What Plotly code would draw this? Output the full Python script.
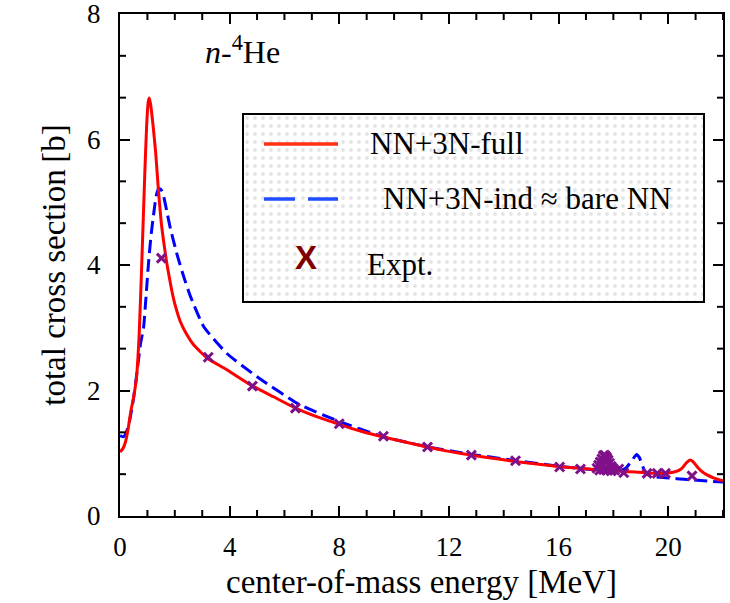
import plotly.graph_objects as go

# ---------------- data ----------------
full_x = [0.00, 0.10, 0.20, 0.30, 0.40, 0.50, 0.60, 0.70, 0.80, 0.90, 0.97, 1.03, 1.07,
          1.12, 1.20, 1.30, 1.40, 1.50, 1.60, 1.70, 1.80, 1.90, 2.00, 2.20, 2.40, 2.70,
          3.20, 3.90, 4.80, 5.60, 6.40, 7.20, 8.00, 8.80, 9.60, 10.40, 11.20, 12.00,
          12.80, 13.60, 14.40, 15.20, 16.00, 16.80, 17.60, 18.40, 19.20, 19.50, 20.00,
          20.30, 20.50, 20.65, 20.78, 20.90, 21.05, 21.20, 21.40, 21.70, 22.00]
full_y = [1.02, 1.07, 1.18, 1.40, 1.68, 1.90, 2.20, 2.90, 4.10, 5.40, 6.20, 6.60, 6.66,
          6.55, 6.25, 5.80, 5.20, 4.70, 4.35, 4.05, 3.80, 3.57, 3.38, 3.10, 2.92, 2.72,
          2.51, 2.33, 2.08, 1.90, 1.72, 1.58, 1.46, 1.35, 1.26, 1.18, 1.10, 1.03,
          0.97, 0.92, 0.87, 0.83, 0.79, 0.76, 0.73, 0.71, 0.69, 0.68, 0.685,
          0.71, 0.76, 0.84, 0.89, 0.87, 0.79, 0.72, 0.66, 0.60, 0.56]

ind_x = [0.00, 0.08, 0.15, 0.25, 0.35, 0.45, 0.55, 0.65, 0.75, 0.86, 0.95, 1.04, 1.14,
         1.23, 1.32, 1.41, 1.50, 1.60, 1.71, 1.84, 2.08, 2.32, 2.57, 3.05, 3.90, 5.00,
         6.53, 7.98, 9.54, 11.14, 12.70, 14.33, 15.86, 16.70, 17.50, 18.20, 18.45,
         18.65, 18.85, 18.95, 19.10, 19.25, 19.45, 19.90, 20.70, 22.00]
ind_y = [1.28, 1.265, 1.27, 1.36, 1.52, 1.75, 2.05, 2.40, 2.75, 3.00, 3.50, 4.03, 4.50,
         4.82, 5.10, 5.22, 5.20, 5.08, 4.85, 4.58, 4.17, 3.82, 3.50, 3.02, 2.59, 2.22,
         1.78, 1.51, 1.27, 1.11, 0.99, 0.89, 0.80, 0.76, 0.73, 0.72, 0.76,
         0.87, 0.98, 0.93, 0.76, 0.66, 0.63, 0.61, 0.58, 0.54]

expt_x = [1.51, 3.22, 4.83, 6.40, 8.00, 9.61, 11.22, 12.82, 14.43, 16.04, 16.80,
          17.40, 17.46, 17.52, 17.58, 17.63, 17.68, 17.72, 17.76, 17.81, 17.86, 17.92,
          17.98, 18.05, 17.50, 17.64, 17.78, 17.92, 18.20, 18.38, 19.23, 19.60, 19.90,
          20.87]
expt_y = [4.11, 2.53, 2.07, 1.72, 1.47, 1.27, 1.10, 0.97, 0.88, 0.78, 0.75,
          0.76, 0.81, 0.86, 0.91, 0.96, 0.97, 0.95, 0.93, 0.89, 0.84, 0.79,
          0.76, 0.73, 0.73, 0.74, 0.73, 0.72, 0.75, 0.69, 0.68, 0.68, 0.68,
          0.64]

x_ticks = [0, 4, 8, 12, 16, 20]
x_minor_step = 1
y_ticks = [0, 2, 4, 6, 8]
y_minor_step = 2 / 3

legend_labels = ["NN+3N-full", "NN+3N-ind \u2248 bare NN", "Expt."]

# ---------------- layout helpers ----------------
W, H = 730, 603
L, R, T, B = 120, 7, 14, 87
PW, PH = W - L - R, H - T - B
X_RANGE = [0, 22]
Y_RANGE = [0, 8]


def px(xp):
    return (xp - L) / PW


def py(yp):
    return (H - B - yp) / PH


SERIF = "Liberation Serif"

fig = go.Figure()

fig.add_trace(go.Scatter(x=ind_x, y=ind_y, mode="lines",
                         line=dict(color="#0000ff", width=3, dash="13px,6px", shape="spline",
                                   smoothing=0.5),
                         showlegend=False))
fig.add_trace(go.Scatter(x=full_x, y=full_y, mode="lines",
                         line=dict(color="#ff0000", width=3, shape="spline", smoothing=0.5),
                         showlegend=False))
fig.add_trace(go.Scatter(x=expt_x, y=expt_y, mode="markers",
                         marker=dict(symbol="x-thin", size=9,
                                     line=dict(color="#80108a", width=3)),
                         showlegend=False))

# legend background with dotted pattern, on its own invisible axes
lx0, lx1, ly0, ly1 = 243, 704, 114, 302
fig.add_trace(go.Scatter(x=[0, 1, 1, 0, 0], y=[0, 0, 1, 1, 0], mode="lines",
                         fill="toself", fillcolor="white",
                         fillpattern=dict(shape=".", size=8, solidity=0.18,
                                          fgcolor="#c9c9c9", bgcolor="white"),
                         line=dict(width=0), hoverinfo="skip", showlegend=False,
                         xaxis="x2", yaxis="y2"))

axis_common = dict(showline=True, linecolor="black", linewidth=2, mirror="allticks",
                   ticks="inside", ticklen=10, tickwidth=2, tickcolor="black",
                   showgrid=False, zeroline=False, ticklabeloverflow="allow",
                   automargin=False,
                   tickfont=dict(family=SERIF, size=27, color="black"))

fig.update_layout(
    width=W, height=H,
    margin=dict(l=L, r=R, t=T, b=B),
    paper_bgcolor="white", plot_bgcolor="white",
    font=dict(family=SERIF, color="black"),
    xaxis=dict(range=X_RANGE, tickmode="linear", tick0=x_ticks[0],
               dtick=x_ticks[1] - x_ticks[0], ticklabelstandoff=6,
               title=dict(text="center-of-mass energy [MeV]",
                          font=dict(family=SERIF, size=33, color="black"), standoff=8),
               **axis_common),
    yaxis=dict(range=Y_RANGE, tickmode="linear", tick0=y_ticks[0],
               dtick=y_ticks[1] - y_ticks[0], ticklabelstandoff=12,
               title=dict(text="total cross section\u2009[b]",
                          font=dict(family=SERIF, size=33, color="black"), standoff=12),
               **axis_common),
    xaxis2=dict(domain=[px(lx0), px(lx1)], range=[0, 1], visible=False, anchor="y2",
                fixedrange=True),
    yaxis2=dict(domain=[py(ly1), py(ly0)], range=[0, 1], visible=False, anchor="x2",
                fixedrange=True),
    showlegend=False,
)

shapes = [
    dict(type="rect", xref="paper", yref="paper", x0=px(lx0), x1=px(lx1),
         y0=py(ly1), y1=py(ly0), line=dict(color="black", width=2), layer="above"),
    dict(type="line", xref="paper", yref="paper", x0=px(264), x1=px(338),
         y0=py(144), y1=py(144), line=dict(color="#ff3014", width=3.5), layer="above"),
    dict(type="line", xref="paper", yref="paper", x0=px(264), x1=px(338),
         y0=py(199), y1=py(199), line=dict(color="#1f4dff", width=3.5, dash="31px,13px"),
         layer="above"),
]

# minor ticks (inside, on all four sides)
MINOR_LEN = 6
tick_line = dict(color="black", width=2)
n_x = int(round((X_RANGE[1] - X_RANGE[0]) / x_minor_step))
for k in range(n_x + 1):
    v = X_RANGE[0] + k * x_minor_step
    if any(abs(v - t) < 1e-9 for t in x_ticks):
        continue
    shapes.append(dict(type="line", xref="x", yref="paper", x0=v, x1=v, y0=0,
                       y1=MINOR_LEN / PH, line=tick_line, layer="above"))
    shapes.append(dict(type="line", xref="x", yref="paper", x0=v, x1=v,
                       y0=1 - MINOR_LEN / PH, y1=1, line=tick_line, layer="above"))
n_y = int(round((Y_RANGE[1] - Y_RANGE[0]) / y_minor_step))
for k in range(n_y + 1):
    v = Y_RANGE[0] + k * y_minor_step
    if any(abs(v - t) < 1e-6 for t in y_ticks):
        continue
    shapes.append(dict(type="line", xref="paper", yref="y", x0=0, x1=MINOR_LEN / PW,
                       y0=v, y1=v, line=tick_line, layer="above"))
    shapes.append(dict(type="line", xref="paper", yref="y", x0=1 - MINOR_LEN / PW, x1=1,
                       y0=v, y1=v, line=tick_line, layer="above"))
fig.update_layout(shapes=shapes)

annots = [
    dict(text="<i>n</i>-<sup>4</sup>He", x=px(242), y=py(50), xanchor="center",
         yanchor="middle", font=dict(family=SERIF, size=32, color="black")),
    dict(text=legend_labels[0], x=px(368), y=py(143), xanchor="left", yanchor="middle",
         font=dict(family=SERIF, size=31, color="black")),
    dict(text=legend_labels[1], x=px(381), y=py(198), xanchor="left", yanchor="middle",
         font=dict(family=SERIF, size=31, color="black")),
    dict(text=legend_labels[2], x=px(365), y=py(264), xanchor="left", yanchor="middle",
         font=dict(family=SERIF, size=31, color="black")),
    dict(text="<b>X</b>", x=px(306), y=py(257), xanchor="center", yanchor="middle",
         font=dict(family="Liberation Sans", size=33, color="#800000")),
]
for a in annots:
    a.update(xref="paper", yref="paper", showarrow=False)
fig.update_layout(annotations=annots)

fig.write_html("out.html")
